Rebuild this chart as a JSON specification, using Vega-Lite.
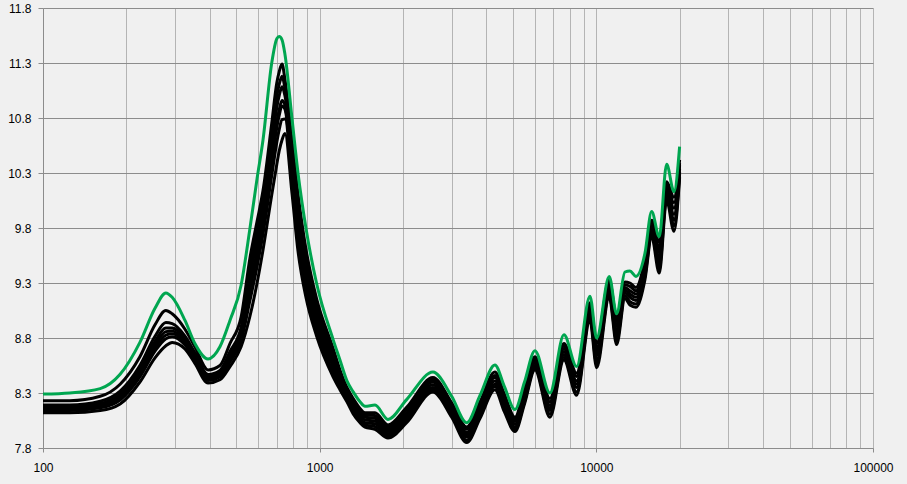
{
"$schema": "https://vega.github.io/schema/vega-lite/v6.json",
"width": 830, "height": 440,
"autosize": "none",
"padding": {"left": 43, "top": 8, "right": 34, "bottom": 36},
"background": "#f0f0f0",
"view": {"stroke": null},
"config": {"font": "Liberation Sans"},
"data": {"values": [
{"s":"G","f":100,"v":8.29},{"s":"G","f":125,"v":8.30},{"s":"G","f":161,"v":8.34},{"s":"G","f":190,"v":8.47},{"s":"G","f":224,"v":8.76},{"s":"G","f":254,"v":9.07},{"s":"G","f":278,"v":9.21},{"s":"G","f":293,"v":9.17},{"s":"G","f":326,"v":8.96},{"s":"G","f":354,"v":8.75},{"s":"G","f":395,"v":8.61},{"s":"G","f":436,"v":8.72},{"s":"G","f":474,"v":8.96},{"s":"G","f":520,"v":9.28},{"s":"G","f":560,"v":9.80},{"s":"G","f":594,"v":10.25},{"s":"G","f":624,"v":10.60},{"s":"G","f":671,"v":11.30},{"s":"G","f":700,"v":11.52},{"s":"G","f":714,"v":11.54},{"s":"G","f":731,"v":11.51},{"s":"G","f":749,"v":11.38},{"s":"G","f":794,"v":10.80},{"s":"G","f":835,"v":10.30},{"s":"G","f":892,"v":9.80},{"s":"G","f":974,"v":9.30},{"s":"G","f":1117,"v":8.79},{"s":"G","f":1184,"v":8.60},{"s":"G","f":1255,"v":8.41},{"s":"G","f":1322,"v":8.31},{"s":"G","f":1399,"v":8.22},{"s":"G","f":1458,"v":8.18},{"s":"G","f":1585,"v":8.19},{"s":"G","f":1766,"v":8.06},{"s":"G","f":2062,"v":8.24},{"s":"G","f":2567,"v":8.49},{"s":"G","f":3000,"v":8.27},{"s":"G","f":3399,"v":8.03},{"s":"G","f":3800,"v":8.28},{"s":"G","f":4300,"v":8.555},{"s":"G","f":4650,"v":8.36},{"s":"G","f":5079,"v":8.15},{"s":"G","f":5500,"v":8.40},{"s":"G","f":5999,"v":8.685},{"s":"G","f":6797,"v":8.30},{"s":"G","f":7637,"v":8.83},{"s":"G","f":8488,"v":8.54},{"s":"G","f":9482,"v":9.18},{"s":"G","f":10025,"v":8.80},{"s":"G","f":11133,"v":9.36},{"s":"G","f":11841,"v":9.02},{"s":"G","f":12689,"v":9.40},{"s":"G","f":13225,"v":9.41},{"s":"G","f":13904,"v":9.36},{"s":"G","f":14985,"v":9.57},{"s":"G","f":15845,"v":9.95},{"s":"G","f":16882,"v":9.72},{"s":"G","f":17952,"v":10.38},{"s":"G","f":19082,"v":10.13},{"s":"G","f":20000,"v":10.54},

{"s":"B1","f":100,"v":8.23},{"s":"B1","f":125,"v":8.23},{"s":"B1","f":161,"v":8.27},{"s":"B1","f":190,"v":8.38},{"s":"B1","f":224,"v":8.63},{"s":"B1","f":254,"v":8.92},{"s":"B1","f":278,"v":9.05},{"s":"B1","f":293,"v":9.02},{"s":"B1","f":326,"v":8.88},{"s":"B1","f":354,"v":8.72},{"s":"B1","f":395,"v":8.51},{"s":"B1","f":436,"v":8.55},{"s":"B1","f":474,"v":8.75},{"s":"B1","f":520,"v":8.99},{"s":"B1","f":560,"v":9.53},{"s":"B1","f":594,"v":9.86},{"s":"B1","f":624,"v":10.14},{"s":"B1","f":671,"v":10.75},{"s":"B1","f":700,"v":11.12},{"s":"B1","f":714,"v":11.22},{"s":"B1","f":731,"v":11.29},{"s":"B1","f":749,"v":11.15},{"s":"B1","f":794,"v":10.60},{"s":"B1","f":835,"v":10.11},{"s":"B1","f":892,"v":9.61},{"s":"B1","f":974,"v":9.16},{"s":"B1","f":1117,"v":8.71},{"s":"B1","f":1184,"v":8.51},{"s":"B1","f":1255,"v":8.35},{"s":"B1","f":1322,"v":8.25},{"s":"B1","f":1399,"v":8.16},{"s":"B1","f":1458,"v":8.12},{"s":"B1","f":1585,"v":8.12},{"s":"B1","f":1766,"v":8.01},{"s":"B1","f":2062,"v":8.17},{"s":"B1","f":2567,"v":8.44},{"s":"B1","f":3000,"v":8.21},{"s":"B1","f":3399,"v":7.99},{"s":"B1","f":3800,"v":8.22},{"s":"B1","f":4300,"v":8.49},{"s":"B1","f":4650,"v":8.29},{"s":"B1","f":5079,"v":8.08},{"s":"B1","f":5500,"v":8.34},{"s":"B1","f":5999,"v":8.63},{"s":"B1","f":6797,"v":8.25},{"s":"B1","f":7637,"v":8.75},{"s":"B1","f":8488,"v":8.48},{"s":"B1","f":9482,"v":9.12},{"s":"B1","f":10025,"v":8.75},{"s":"B1","f":11133,"v":9.33},{"s":"B1","f":11841,"v":8.99},{"s":"B1","f":12689,"v":9.31},{"s":"B1","f":13225,"v":9.30},{"s":"B1","f":13904,"v":9.26},{"s":"B1","f":14985,"v":9.51},{"s":"B1","f":15845,"v":9.87},{"s":"B1","f":16882,"v":9.67},{"s":"B1","f":17952,"v":10.22},{"s":"B1","f":19082,"v":10.08},{"s":"B1","f":20000,"v":10.42},

{"s":"B2","f":100,"v":8.19},{"s":"B2","f":125,"v":8.19},{"s":"B2","f":161,"v":8.225},{"s":"B2","f":190,"v":8.317},{"s":"B2","f":224,"v":8.55},{"s":"B2","f":254,"v":8.815},{"s":"B2","f":278,"v":8.94},{"s":"B2","f":293,"v":8.93},{"s":"B2","f":326,"v":8.817},{"s":"B2","f":354,"v":8.667},{"s":"B2","f":395,"v":8.468},{"s":"B2","f":436,"v":8.505},{"s":"B2","f":474,"v":8.677},{"s":"B2","f":520,"v":8.896},{"s":"B2","f":560,"v":9.445},{"s":"B2","f":594,"v":9.77},{"s":"B2","f":624,"v":10.054},{"s":"B2","f":671,"v":10.646},{"s":"B2","f":700,"v":11.002},{"s":"B2","f":714,"v":11.105},{"s":"B2","f":731,"v":11.18},{"s":"B2","f":749,"v":11.072},{"s":"B2","f":794,"v":10.52},{"s":"B2","f":835,"v":10.02},{"s":"B2","f":892,"v":9.54},{"s":"B2","f":974,"v":9.10},{"s":"B2","f":1117,"v":8.67},{"s":"B2","f":1184,"v":8.48},{"s":"B2","f":1255,"v":8.33},{"s":"B2","f":1322,"v":8.23},{"s":"B2","f":1399,"v":8.14},{"s":"B2","f":1458,"v":8.10},{"s":"B2","f":1585,"v":8.095},{"s":"B2","f":1766,"v":7.99},{"s":"B2","f":2062,"v":8.15},{"s":"B2","f":2567,"v":8.42},{"s":"B2","f":3000,"v":8.19},{"s":"B2","f":3399,"v":7.97},{"s":"B2","f":3800,"v":8.195},{"s":"B2","f":4300,"v":8.46},{"s":"B2","f":4650,"v":8.26},{"s":"B2","f":5079,"v":8.06},{"s":"B2","f":5500,"v":8.32},{"s":"B2","f":5999,"v":8.61},{"s":"B2","f":6797,"v":8.22},{"s":"B2","f":7637,"v":8.725},{"s":"B2","f":8488,"v":8.45},{"s":"B2","f":9482,"v":9.09},{"s":"B2","f":10025,"v":8.71},{"s":"B2","f":11133,"v":9.30},{"s":"B2","f":11841,"v":8.95},{"s":"B2","f":12689,"v":9.285},{"s":"B2","f":13225,"v":9.27},{"s":"B2","f":13904,"v":9.23},{"s":"B2","f":14985,"v":9.48},{"s":"B2","f":15845,"v":9.845},{"s":"B2","f":16882,"v":9.62},{"s":"B2","f":17952,"v":10.19},{"s":"B2","f":19082,"v":10.03},{"s":"B2","f":20000,"v":10.39},

{"s":"B3","f":100,"v":8.175},{"s":"B3","f":125,"v":8.175},{"s":"B3","f":161,"v":8.205},{"s":"B3","f":190,"v":8.29},{"s":"B3","f":224,"v":8.515},{"s":"B3","f":254,"v":8.77},{"s":"B3","f":278,"v":8.89},{"s":"B3","f":293,"v":8.89},{"s":"B3","f":326,"v":8.79},{"s":"B3","f":354,"v":8.645},{"s":"B3","f":395,"v":8.45},{"s":"B3","f":436,"v":8.485},{"s":"B3","f":474,"v":8.645},{"s":"B3","f":520,"v":8.855},{"s":"B3","f":560,"v":9.37},{"s":"B3","f":594,"v":9.69},{"s":"B3","f":624,"v":9.978},{"s":"B3","f":671,"v":10.555},{"s":"B3","f":700,"v":10.898},{"s":"B3","f":714,"v":11.004},{"s":"B3","f":731,"v":11.083},{"s":"B3","f":749,"v":11.003},{"s":"B3","f":794,"v":10.45},{"s":"B3","f":835,"v":9.94},{"s":"B3","f":892,"v":9.46},{"s":"B3","f":974,"v":9.05},{"s":"B3","f":1117,"v":8.62},{"s":"B3","f":1184,"v":8.45},{"s":"B3","f":1255,"v":8.31},{"s":"B3","f":1322,"v":8.20},{"s":"B3","f":1399,"v":8.12},{"s":"B3","f":1458,"v":8.08},{"s":"B3","f":1585,"v":8.07},{"s":"B3","f":1766,"v":7.97},{"s":"B3","f":2062,"v":8.12},{"s":"B3","f":2567,"v":8.40},{"s":"B3","f":3000,"v":8.17},{"s":"B3","f":3399,"v":7.94},{"s":"B3","f":3800,"v":8.17},{"s":"B3","f":4300,"v":8.44},{"s":"B3","f":4650,"v":8.24},{"s":"B3","f":5079,"v":8.04},{"s":"B3","f":5500,"v":8.29},{"s":"B3","f":5999,"v":8.59},{"s":"B3","f":6797,"v":8.19},{"s":"B3","f":7637,"v":8.70},{"s":"B3","f":8488,"v":8.41},{"s":"B3","f":9482,"v":9.07},{"s":"B3","f":10025,"v":8.68},{"s":"B3","f":11133,"v":9.28},{"s":"B3","f":11841,"v":8.91},{"s":"B3","f":12689,"v":9.26},{"s":"B3","f":13225,"v":9.23},{"s":"B3","f":13904,"v":9.20},{"s":"B3","f":14985,"v":9.45},{"s":"B3","f":15845,"v":9.82},{"s":"B3","f":16882,"v":9.58},{"s":"B3","f":17952,"v":10.16},{"s":"B3","f":19082,"v":9.98},{"s":"B3","f":20000,"v":10.37},

{"s":"B4","f":100,"v":8.16},{"s":"B4","f":125,"v":8.16},{"s":"B4","f":161,"v":8.19},{"s":"B4","f":190,"v":8.27},{"s":"B4","f":224,"v":8.49},{"s":"B4","f":254,"v":8.74},{"s":"B4","f":278,"v":8.858},{"s":"B4","f":293,"v":8.864},{"s":"B4","f":326,"v":8.772},{"s":"B4","f":354,"v":8.63},{"s":"B4","f":395,"v":8.438},{"s":"B4","f":436,"v":8.472},{"s":"B4","f":474,"v":8.624},{"s":"B4","f":520,"v":8.828},{"s":"B4","f":560,"v":9.276},{"s":"B4","f":594,"v":9.59},{"s":"B4","f":624,"v":9.881},{"s":"B4","f":671,"v":10.438},{"s":"B4","f":700,"v":10.765},{"s":"B4","f":714,"v":10.874},{"s":"B4","f":731,"v":10.959},{"s":"B4","f":749,"v":10.915},{"s":"B4","f":794,"v":10.38},{"s":"B4","f":835,"v":9.85},{"s":"B4","f":892,"v":9.39},{"s":"B4","f":974,"v":8.99},{"s":"B4","f":1117,"v":8.58},{"s":"B4","f":1184,"v":8.42},{"s":"B4","f":1255,"v":8.285},{"s":"B4","f":1322,"v":8.18},{"s":"B4","f":1399,"v":8.095},{"s":"B4","f":1458,"v":8.055},{"s":"B4","f":1585,"v":8.045},{"s":"B4","f":1766,"v":7.95},{"s":"B4","f":2062,"v":8.10},{"s":"B4","f":2567,"v":8.375},{"s":"B4","f":3000,"v":8.145},{"s":"B4","f":3399,"v":7.92},{"s":"B4","f":3800,"v":8.145},{"s":"B4","f":4300,"v":8.41},{"s":"B4","f":4650,"v":8.21},{"s":"B4","f":5079,"v":8.015},{"s":"B4","f":5500,"v":8.27},{"s":"B4","f":5999,"v":8.57},{"s":"B4","f":6797,"v":8.165},{"s":"B4","f":7637,"v":8.675},{"s":"B4","f":8488,"v":8.38},{"s":"B4","f":9482,"v":9.04},{"s":"B4","f":10025,"v":8.64},{"s":"B4","f":11133,"v":9.25},{"s":"B4","f":11841,"v":8.865},{"s":"B4","f":12689,"v":9.235},{"s":"B4","f":13225,"v":9.20},{"s":"B4","f":13904,"v":9.17},{"s":"B4","f":14985,"v":9.42},{"s":"B4","f":15845,"v":9.795},{"s":"B4","f":16882,"v":9.53},{"s":"B4","f":17952,"v":10.135},{"s":"B4","f":19082,"v":9.925},{"s":"B4","f":20000,"v":10.34},

{"s":"B5","f":100,"v":8.15},{"s":"B5","f":125,"v":8.15},{"s":"B5","f":161,"v":8.18},{"s":"B5","f":190,"v":8.254},{"s":"B5","f":224,"v":8.47},{"s":"B5","f":254,"v":8.71},{"s":"B5","f":278,"v":8.826},{"s":"B5","f":293,"v":8.838},{"s":"B5","f":326,"v":8.754},{"s":"B5","f":354,"v":8.615},{"s":"B5","f":395,"v":8.426},{"s":"B5","f":436,"v":8.459},{"s":"B5","f":474,"v":8.603},{"s":"B5","f":520,"v":8.801},{"s":"B5","f":560,"v":9.239},{"s":"B5","f":594,"v":9.552},{"s":"B5","f":624,"v":9.843},{"s":"B5","f":671,"v":10.393},{"s":"B5","f":700,"v":10.713},{"s":"B5","f":714,"v":10.824},{"s":"B5","f":731,"v":10.91},{"s":"B5","f":749,"v":10.88},{"s":"B5","f":794,"v":10.32},{"s":"B5","f":835,"v":9.77},{"s":"B5","f":892,"v":9.32},{"s":"B5","f":974,"v":8.93},{"s":"B5","f":1117,"v":8.54},{"s":"B5","f":1184,"v":8.39},{"s":"B5","f":1255,"v":8.26},{"s":"B5","f":1322,"v":8.16},{"s":"B5","f":1399,"v":8.07},{"s":"B5","f":1458,"v":8.03},{"s":"B5","f":1585,"v":8.02},{"s":"B5","f":1766,"v":7.93},{"s":"B5","f":2062,"v":8.08},{"s":"B5","f":2567,"v":8.35},{"s":"B5","f":3000,"v":8.12},{"s":"B5","f":3399,"v":7.90},{"s":"B5","f":3800,"v":8.12},{"s":"B5","f":4300,"v":8.38},{"s":"B5","f":4650,"v":8.18},{"s":"B5","f":5079,"v":7.99},{"s":"B5","f":5500,"v":8.25},{"s":"B5","f":5999,"v":8.55},{"s":"B5","f":6797,"v":8.14},{"s":"B5","f":7637,"v":8.65},{"s":"B5","f":8488,"v":8.35},{"s":"B5","f":9482,"v":9.01},{"s":"B5","f":10025,"v":8.60},{"s":"B5","f":11133,"v":9.22},{"s":"B5","f":11841,"v":8.82},{"s":"B5","f":12689,"v":9.21},{"s":"B5","f":13225,"v":9.17},{"s":"B5","f":13904,"v":9.14},{"s":"B5","f":14985,"v":9.39},{"s":"B5","f":15845,"v":9.77},{"s":"B5","f":16882,"v":9.48},{"s":"B5","f":17952,"v":10.11},{"s":"B5","f":19082,"v":9.87},{"s":"B5","f":20000,"v":10.31},

{"s":"B6","f":100,"v":8.14},{"s":"B6","f":125,"v":8.14},{"s":"B6","f":161,"v":8.165},{"s":"B6","f":190,"v":8.236},{"s":"B6","f":224,"v":8.446},{"s":"B6","f":254,"v":8.68},{"s":"B6","f":278,"v":8.794},{"s":"B6","f":293,"v":8.812},{"s":"B6","f":326,"v":8.736},{"s":"B6","f":354,"v":8.60},{"s":"B6","f":395,"v":8.414},{"s":"B6","f":436,"v":8.446},{"s":"B6","f":474,"v":8.582},{"s":"B6","f":520,"v":8.774},{"s":"B6","f":560,"v":9.143},{"s":"B6","f":594,"v":9.451},{"s":"B6","f":624,"v":9.746},{"s":"B6","f":671,"v":10.276},{"s":"B6","f":700,"v":10.58},{"s":"B6","f":714,"v":10.694},{"s":"B6","f":731,"v":10.786},{"s":"B6","f":749,"v":10.792},{"s":"B6","f":794,"v":10.25},{"s":"B6","f":835,"v":9.68},{"s":"B6","f":892,"v":9.24},{"s":"B6","f":974,"v":8.88},{"s":"B6","f":1117,"v":8.49},{"s":"B6","f":1184,"v":8.36},{"s":"B6","f":1255,"v":8.24},{"s":"B6","f":1322,"v":8.13},{"s":"B6","f":1399,"v":8.05},{"s":"B6","f":1458,"v":8.01},{"s":"B6","f":1585,"v":7.995},{"s":"B6","f":1766,"v":7.91},{"s":"B6","f":2062,"v":8.05},{"s":"B6","f":2567,"v":8.33},{"s":"B6","f":3000,"v":8.10},{"s":"B6","f":3399,"v":7.87},{"s":"B6","f":3800,"v":8.095},{"s":"B6","f":4300,"v":8.36},{"s":"B6","f":4650,"v":8.16},{"s":"B6","f":5079,"v":7.97},{"s":"B6","f":5500,"v":8.22},{"s":"B6","f":5999,"v":8.53},{"s":"B6","f":6797,"v":8.11},{"s":"B6","f":7637,"v":8.625},{"s":"B6","f":8488,"v":8.31},{"s":"B6","f":9482,"v":8.99},{"s":"B6","f":10025,"v":8.57},{"s":"B6","f":11133,"v":9.20},{"s":"B6","f":11841,"v":8.78},{"s":"B6","f":12689,"v":9.185},{"s":"B6","f":13225,"v":9.13},{"s":"B6","f":13904,"v":9.11},{"s":"B6","f":14985,"v":9.36},{"s":"B6","f":15845,"v":9.745},{"s":"B6","f":16882,"v":9.44},{"s":"B6","f":17952,"v":10.08},{"s":"B6","f":19082,"v":9.82},{"s":"B6","f":20000,"v":10.29},

{"s":"B7","f":100,"v":8.12},{"s":"B7","f":125,"v":8.12},{"s":"B7","f":161,"v":8.14},{"s":"B7","f":190,"v":8.20},{"s":"B7","f":224,"v":8.40},{"s":"B7","f":254,"v":8.62},{"s":"B7","f":278,"v":8.73},{"s":"B7","f":293,"v":8.76},{"s":"B7","f":326,"v":8.70},{"s":"B7","f":354,"v":8.57},{"s":"B7","f":395,"v":8.39},{"s":"B7","f":436,"v":8.42},{"s":"B7","f":474,"v":8.54},{"s":"B7","f":520,"v":8.72},{"s":"B7","f":560,"v":9.00},{"s":"B7","f":594,"v":9.30},{"s":"B7","f":624,"v":9.60},{"s":"B7","f":671,"v":10.10},{"s":"B7","f":700,"v":10.38},{"s":"B7","f":714,"v":10.50},{"s":"B7","f":731,"v":10.60},{"s":"B7","f":749,"v":10.66},{"s":"B7","f":794,"v":10.12},{"s":"B7","f":835,"v":9.59},{"s":"B7","f":892,"v":9.17},{"s":"B7","f":974,"v":8.82},{"s":"B7","f":1117,"v":8.45},{"s":"B7","f":1184,"v":8.33},{"s":"B7","f":1255,"v":8.22},{"s":"B7","f":1322,"v":8.11},{"s":"B7","f":1399,"v":8.03},{"s":"B7","f":1458,"v":7.99},{"s":"B7","f":1585,"v":7.97},{"s":"B7","f":1766,"v":7.89},{"s":"B7","f":2062,"v":8.03},{"s":"B7","f":2567,"v":8.31},{"s":"B7","f":3000,"v":8.08},{"s":"B7","f":3399,"v":7.85},{"s":"B7","f":3800,"v":8.07},{"s":"B7","f":4300,"v":8.33},{"s":"B7","f":4650,"v":8.13},{"s":"B7","f":5079,"v":7.95},{"s":"B7","f":5500,"v":8.20},{"s":"B7","f":5999,"v":8.51},{"s":"B7","f":6797,"v":8.08},{"s":"B7","f":7637,"v":8.60},{"s":"B7","f":8488,"v":8.28},{"s":"B7","f":9482,"v":8.96},{"s":"B7","f":10025,"v":8.53},{"s":"B7","f":11133,"v":9.17},{"s":"B7","f":11841,"v":8.74},{"s":"B7","f":12689,"v":9.16},{"s":"B7","f":13225,"v":9.10},{"s":"B7","f":13904,"v":9.08},{"s":"B7","f":14985,"v":9.33},{"s":"B7","f":15845,"v":9.72},{"s":"B7","f":16882,"v":9.39},{"s":"B7","f":17952,"v":10.05},{"s":"B7","f":19082,"v":9.77},{"s":"B7","f":20000,"v":10.26}
]},
"encoding": {
  "x": {"field": "f", "type": "quantitative",
    "scale": {"type": "log", "domain": [100, 100000], "nice": false},
    "axis": {"title": null,
      "values": [100,200,300,400,500,600,700,800,900,1000,2000,3000,4000,5000,6000,7000,8000,9000,10000,20000,30000,40000,50000,60000,70000,80000,90000,100000],
      "labelExpr": "indexof([100,1000,10000,100000], datum.value) >= 0 ? format(datum.value, 'd') : ''",
      "grid": true, "gridColor": "#b4b4b4", "gridWidth": 1,
      "domainColor": "#8c8c8c", "tickColor": "#8c8c8c", "tickSize": 4,
      "tickOpacity": {"condition": {"test": "indexof([100,1000,10000,100000], datum.value) >= 0", "value": 1}, "value": 0},
      "labelPadding": 10, "labelFont": "Liberation Sans", "labelFontSize": 12, "labelColor": "#000000",
      "labelFlush": false, "labelOverlap": false}},
  "y": {"field": "v", "type": "quantitative",
    "scale": {"domain": [7.8, 11.8], "nice": false, "zero": false},
    "axis": {"title": null, "values": [7.8,8.3,8.8,9.3,9.8,10.3,10.8,11.3,11.8], "format": ".1f",
      "grid": true, "gridColor": "#8c8c8c", "gridWidth": 1,
      "domainColor": "#8c8c8c", "tickColor": "#8c8c8c", "tickSize": 5,
      "labelPadding": 7, "labelFont": "Liberation Sans", "labelFontSize": 12, "labelColor": "#000000",
      "labelFlush": false, "labelOverlap": false}}
},
"layer": [
  {"transform": [{"filter": "datum.s != 'G'"}],
   "mark": {"type": "line", "interpolate": "monotone", "strokeWidth": 3, "color": "#000000"},
   "encoding": {"detail": {"field": "s", "type": "nominal"}}},
  {"transform": [{"filter": "datum.s == 'G'"}],
   "mark": {"type": "line", "interpolate": "monotone", "strokeWidth": 3, "color": "#00a650"},
   "encoding": {}}
]
}
